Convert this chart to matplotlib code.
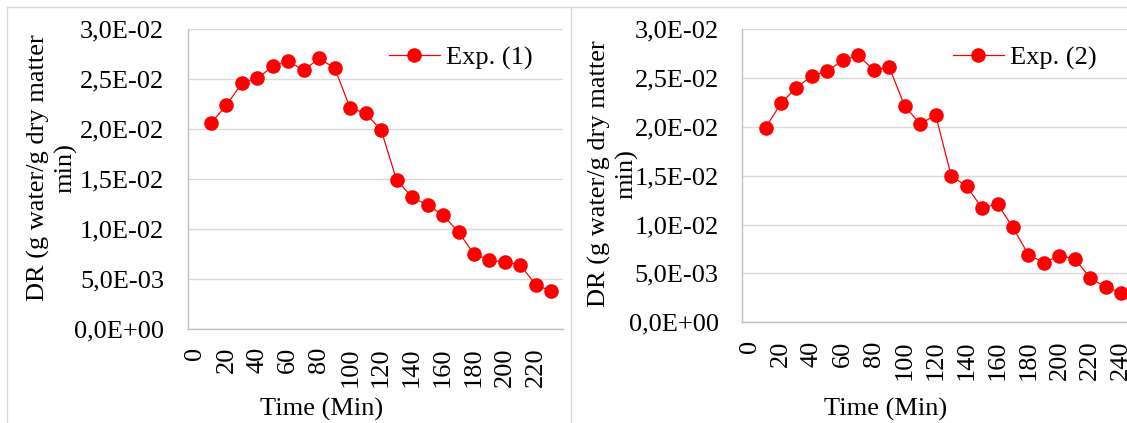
import matplotlib
matplotlib.use('Agg')
import matplotlib.pyplot as plt
from matplotlib.ticker import FuncFormatter
from matplotlib.lines import Line2D

W, H = 1127, 423

time1 = [10, 20, 30, 40, 50, 60, 70, 80, 90, 100, 110, 120, 130, 140, 150, 160,
         170, 180, 190, 200, 210, 220, 230]
dr1 = [0.0206, 0.0224, 0.0246, 0.0251, 0.0263, 0.0268, 0.0259, 0.0271, 0.0261,
       0.0221, 0.0216, 0.0199, 0.0149, 0.0132, 0.0124, 0.0114, 0.0097, 0.0075,
       0.0069, 0.0067, 0.0064, 0.0044, 0.0038]

time2 = [10, 20, 30, 40, 50, 60, 70, 80, 90, 100, 110, 120, 130, 140, 150, 160,
         170, 180, 190, 200, 210, 220, 230, 240]
dr2 = [0.0199, 0.0224, 0.0240, 0.0252, 0.0257, 0.0268, 0.0273, 0.0258, 0.0261,
       0.0221, 0.0203, 0.0212, 0.0150, 0.0139, 0.0117, 0.0121, 0.0097, 0.0069,
       0.0061, 0.0068, 0.0065, 0.0045, 0.0036, 0.0030]

xticks1 = [0, 20, 40, 60, 80, 100, 120, 140, 160, 180, 200, 220]
xticks2 = [0, 20, 40, 60, 80, 100, 120, 140, 160, 180, 200, 220, 240]
yticks = [0, 0.005, 0.01, 0.015, 0.02, 0.025, 0.03]

FONT = 'Liberation Serif'
FS = 19
plt.rcParams['font.family'] = FONT


def fx(px):
    return px / W


def fy(py):
    return 1 - py / H


def sci_comma(v, pos):
    return f'{v:.1E}'.replace('.', ',')


def draw_panel(fig, rect, t, dr, xticks, xlim, label, leg_xy, ylab_xy, xlab_xy):
    x0, y0, x1, y1 = rect
    ax = fig.add_axes([fx(x0), fy(y1), fx(x1) - fx(x0), fy(y0) - fy(y1)])
    ax.plot(t, dr, color='#FF0000', lw=0.9, marker='o', markersize=10.5,
            markeredgewidth=0, label=label)
    ax.set_xlim(*xlim)
    ax.set_ylim(0, 0.03)
    ax.set_xticks(xticks)
    ax.set_yticks(yticks)
    ax.yaxis.set_major_formatter(FuncFormatter(sci_comma))
    ax.grid(axis='y', color='#D9D9D9', lw=1)
    ax.set_axisbelow(True)
    for s in ['top', 'right']:
        ax.spines[s].set_visible(False)
    for s in ['left', 'bottom']:
        ax.spines[s].set_color('#BFBFBF')
        ax.spines[s].set_linewidth(1)
    ax.tick_params(axis='y', length=0, pad=17, labelsize=FS)
    ax.tick_params(axis='x', length=0, pad=13, labelsize=FS, labelrotation=90)

    ax.legend(loc='center left', bbox_to_anchor=(fx(leg_xy[0]), fy(leg_xy[1])),
              bbox_transform=fig.transFigure, frameon=False, handlelength=1.93,
              handletextpad=0.23, borderpad=0, borderaxespad=0, fontsize=FS)

    fig.text(fx(ylab_xy[0]), fy(ylab_xy[1]), 'DR (g water/g dry matter\nmin)',
             rotation=90, ha='center', va='center', multialignment='center',
             fontsize=FS, linespacing=1.25)
    fig.text(fx(xlab_xy[0]), fy(xlab_xy[1]), 'Time (Min)', ha='center',
             va='center', fontsize=FS)
    return ax


fig = plt.figure(figsize=(W / 100, H / 100), dpi=100)

draw_panel(fig, (187.7, 29.3, 563, 329), time1, dr1, xticks1, (-5, 237.5),
           'Exp. (1)', (389, 58), (52, 168), (322, 409))
draw_panel(fig, (742.3, 29, 1127, 322.3), time2, dr2, xticks2, (-5, 243.7),
           'Exp. (2)', (953, 58), (613, 174), (886, 409))

# chart area borders
border = '#D9D9D9'
fig.add_artist(Line2D([fx(6.7), fx(1127)], [fy(7.3), fy(7.3)],
                      transform=fig.transFigure, color=border, lw=1))
fig.add_artist(Line2D([fx(6.7), fx(6.7)], [fy(7.3), fy(423)],
                      transform=fig.transFigure, color=border, lw=1))
fig.add_artist(Line2D([fx(571), fx(571)], [fy(7.3), fy(423)],
                      transform=fig.transFigure, color=border, lw=1))

fig.savefig('out.png', dpi=100)
